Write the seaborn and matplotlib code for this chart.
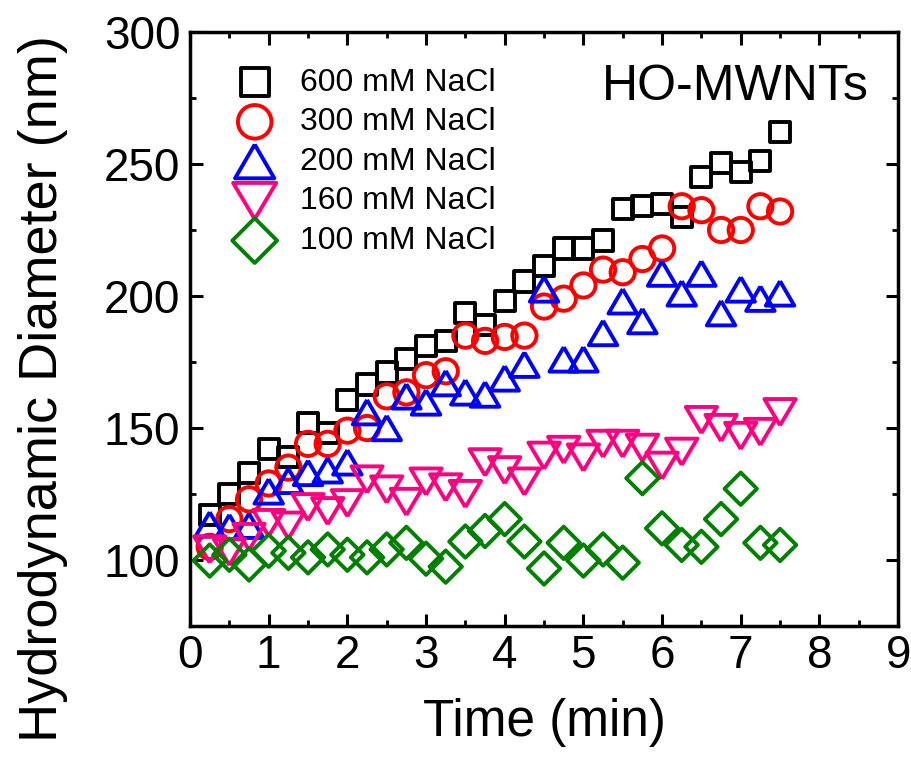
import matplotlib
matplotlib.use("Agg")
import matplotlib.pyplot as plt
from matplotlib.ticker import MultipleLocator
import numpy as np
import pandas as pd
import seaborn as sns

# ---------------- data ----------------
time_min = [0.25, 0.5, 0.75, 1.0, 1.25, 1.5, 1.75, 2.0, 2.25, 2.5,
            2.75, 3.0, 3.25, 3.5, 3.75, 4.0, 4.25, 4.5, 4.75, 5.0,
            5.25, 5.5, 5.75, 6.0, 6.25, 6.5, 6.75, 7.0, 7.25, 7.5]

d600 = [117, 125, 133, 142, 139, 152, 148, 160.5, 166.5, 171,
        176, 181, 183, 193.5, 189, 198, 205.5, 211.5, 218, 218,
        221, 233, 234, 235, 230, 245, 250.5, 247, 251, 262]
d300 = [105, 115.5, 123, 129, 135, 144, 144, 149, 150, 162,
        163.5, 170, 171.5, 185, 183, 184.5, 185, 196, 199, 204,
        210, 209, 214, 218, 234, 232.5, 225, 225, 234, 232]
d200 = [113.5, 112.5, 113, 126, 130, 133, 134, 137, 156, 150,
        162, 159.7, 167, 163.5, 162.7, 168.8, 174, 202.5, 176, 176,
        186, 198, 190.5, 208.5, 201, 208.5, 193.5, 202.5, 199, 201]
d160 = [104, 103, 108.7, 114, 113, 120, 118.5, 121.5, 130.5, 126.7,
        122, 129.7, 127.5, 125, 137, 134, 129.7, 139.5, 141.7, 138.8,
        144, 144, 142.5, 135.7, 141, 153, 150, 147, 148.5, 156]
d100 = [99.8, 102, 98.3, 103.5, 102.7, 101, 104, 102, 101, 104,
        106.5, 100.5, 97.5, 107, 111, 115.5, 107, 96.8, 106.5, 99.8,
        104, 99, 131, 112, 105.7, 105, 115.5, 127, 106.5, 105.7]

series_labels = ["600 mM NaCl", "300 mM NaCl", "200 mM NaCl",
                 "160 mM NaCl", "100 mM NaCl"]
series_values = [d600, d300, d200, d160, d100]

x_ticks = [0, 1, 2, 3, 4, 5, 6, 7, 8, 9]
y_ticks = [100, 150, 200, 250, 300]

# ---------------- style ----------------
colors = ["#000000", "#FF0000", "#0000FF", "#FF0080", "#008000"]
tri_up = [(0, 0.86), (-1, -0.86), (1, -0.86), (0, 0.86)]
tri_dn = [(0, -0.84), (1, 0.84), (-1, 0.84), (0, -0.84)]
markers = ["s", "o", tri_up, tri_dn, "D"]
sizes = [14.5 ** 2, 17.5 ** 2, 20.5 ** 2, 22.5 ** 2, 16.5 ** 2]

sns.set_theme(style="ticks", rc={
    "axes.edgecolor": "black", "xtick.color": "black", "ytick.color": "black",
    "text.color": "black", "axes.labelcolor": "black",
})
plt.rcParams["font.family"] = ["Liberation Sans", "DejaVu Sans"]

fig = plt.figure(figsize=(9.11, 7.67), dpi=100)
ax = fig.add_axes([0.2086, 0.1838, 0.7772, 0.7745])

df = pd.DataFrame({"Time": time_min})
for lab, vals in zip(series_labels, series_values):
    df[lab] = vals

for lab, col, mk, sz in zip(series_labels, colors, markers, sizes):
    sns.scatterplot(data=df, x="Time", y=lab, ax=ax, marker=mk, s=sz,
                    facecolors="none", edgecolor=col, linewidth=2.8,
                    label=lab, zorder=3, clip_on=False)

ax.set_xlim(0, 9)
ax.set_ylim(75, 300)
ax.set_xticks(x_ticks)
ax.set_yticks(y_ticks)
ax.xaxis.set_minor_locator(MultipleLocator(0.5))
ax.yaxis.set_minor_locator(MultipleLocator(25))

for s in ax.spines.values():
    s.set_linewidth(2.5)
    s.set_color("black")

ax.tick_params(which="both", direction="in", top=True, right=True)
ax.tick_params(which="major", length=9, width=2.2, labelsize=33)
ax.tick_params(which="minor", length=4.5, width=2.0)
ax.tick_params(axis="x", which="major", pad=6)
ax.tick_params(axis="y", which="major", pad=7)

ax.set_xlabel("Time (min)", fontsize=37, labelpad=14)
ax.set_ylabel("Hydrodynamic Diameter (nm)", fontsize=39)
ax.yaxis.set_label_coords(-0.172, 0.40)

ax.text(0.958, 0.8855, "HO-MWNTs", transform=ax.transAxes, fontsize=36,
        ha="right", va="baseline")

leg = ax.legend(loc="upper left", bbox_to_anchor=(0.0575, 0.94),
                frameon=False, fontsize=23, markerscale=1.38,
                handlelength=1.5, handletextpad=0.66, labelspacing=0.3,
                borderpad=0, borderaxespad=0, scatterpoints=1)

fig.savefig("out.png", dpi=100)
